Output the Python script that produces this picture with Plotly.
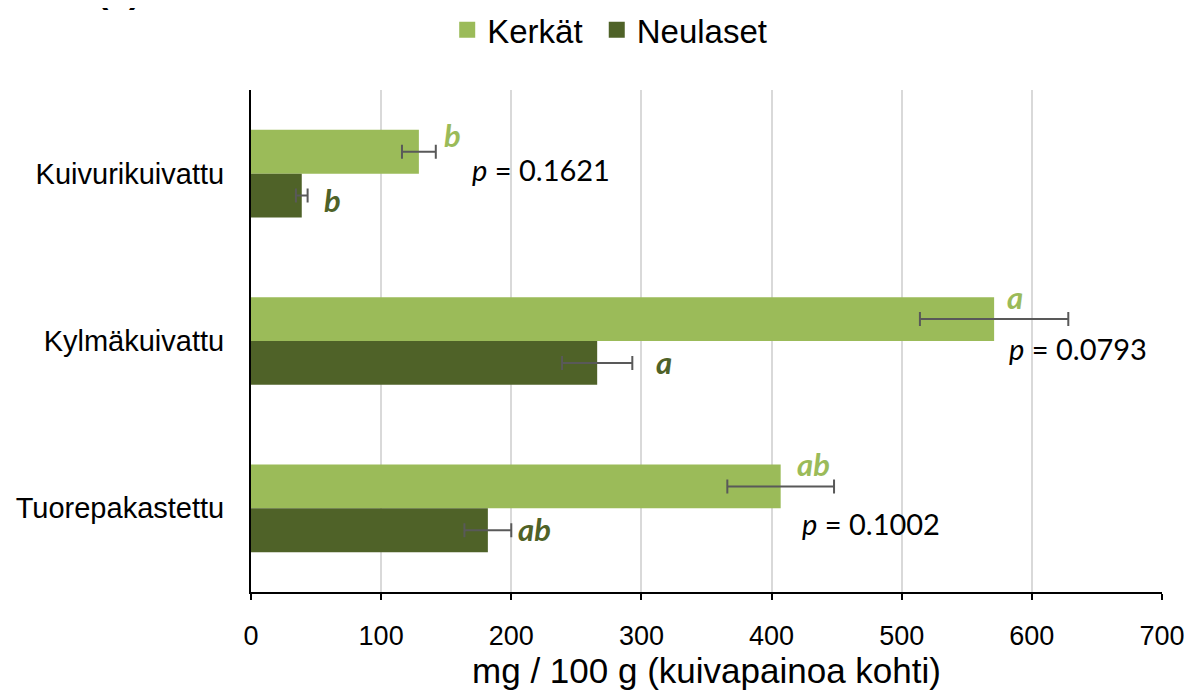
import plotly.graph_objects as go

categories = ["Kuivurikuivattu", "Kylmäkuivattu", "Tuorepakastettu"]
kerkat = [129, 571, 407]
kerkat_err = [13, 57, 41]
neulaset = [39, 266, 182]
neulaset_err = [4.5, 27, 18]

series_names = ["Kerkät", "Neulaset"]
p_labels = ["0.1621", "0.0793", "0.1002"]
kerkat_letters = ["b", "a", "ab"]
neulaset_letters = ["b", "a", "ab"]

# annotation placement (data x, pixel y shift)
p_x = [168, 581, 422]
p_shift = [4, -7, -15]
kl_x = [155, 587, 432]
kl_shift = [39, 44, 44]
nl_x = [63, 317, 218]
nl_shift = [-26, -21, -21]

LIGHT = "#9BBB59"
DARK = "#4F6228"
ERR = "#595959"

# the page body adds an 8 px offset, so the figure is drawn 8 px smaller
W, H = 1184, 685
PLOT_L, PLOT_R, PLOT_T, PLOT_B = 243, 1154, 82, 584

fig = go.Figure()
fig.add_trace(go.Bar(
    y=categories, x=kerkat, orientation="h", name=series_names[0], showlegend=False,
    marker=dict(color=LIGHT, line=dict(width=0)),
    error_x=dict(type="data", array=kerkat_err, color=ERR, thickness=2, width=7),
))
fig.add_trace(go.Bar(
    y=categories, x=neulaset, orientation="h", name=series_names[1], showlegend=False,
    marker=dict(color=DARK, line=dict(width=0)),
    error_x=dict(type="data", array=neulaset_err, color=ERR, thickness=2, width=7),
))
# legend entries with larger square swatches
for name, col in zip(series_names, [LIGHT, DARK]):
    fig.add_trace(go.Scatter(
        x=[None], y=[None], mode="markers", name=name + " ",
        marker=dict(symbol="square", size=17, color=col), showlegend=True,
    ))

annotations = []
for i, cat in enumerate(categories):
    annotations.append(dict(
        x=p_x[i], y=cat, xref="x", yref="y", yshift=p_shift[i],
        text="<i>p</i> = " + p_labels[i], showarrow=False, xanchor="left",
        font=dict(family="Lato, Open Sans, sans-serif", size=29, color="#000000"),
    ))
    annotations.append(dict(
        x=kl_x[i], y=cat, xref="x", yref="y", yshift=kl_shift[i],
        text="<b><i>" + kerkat_letters[i] + "</i></b>", showarrow=False,
        font=dict(family="Lato, Open Sans, sans-serif", size=31, color=LIGHT),
    ))
    annotations.append(dict(
        x=nl_x[i], y=cat, xref="x", yref="y", yshift=nl_shift[i],
        text="<b><i>" + neulaset_letters[i] + "</i></b>", showarrow=False,
        font=dict(family="Lato, Open Sans, sans-serif", size=31, color=DARK),
    ))

annotations.append(dict(
    x=(110 - PLOT_L) / (PLOT_R - PLOT_L), y=1 + (PLOT_T - 4) / (PLOT_B - PLOT_T),
    xref="paper", yref="paper", xanchor="center", yanchor="bottom",
    text="<b>(b)</b>", showarrow=False,
    font=dict(family="Liberation Sans, Arial, sans-serif", size=34, color="#000000"),
))

fig.update_layout(
    width=W, height=H,
    margin=dict(l=PLOT_L, r=W - PLOT_R, t=PLOT_T, b=H - PLOT_B, autoexpand=False),
    paper_bgcolor="white", plot_bgcolor="white",
    barmode="group", bargap=0.476, bargroupgap=0,
    font=dict(family="Liberation Sans, Arial, sans-serif", color="#000000"),
    showlegend=True,
    legend=dict(
        orientation="h", x=0.512, y=0.968, xref="container", yref="container",
        xanchor="center", yanchor="middle",
        font=dict(size=33, color="#000000"), traceorder="normal",
        bgcolor="rgba(0,0,0,0)", itemsizing="trace",
    ),
    annotations=annotations,
    xaxis=dict(
        range=[0, 700], dtick=100, tick0=0,
        showgrid=True, gridcolor="#D9D9D9", gridwidth=2,
        showline=True, linecolor="#000000", linewidth=2,
        ticks="outside", ticklen=6, tickwidth=1.5, tickcolor="#000000",
        tickfont=dict(size=27), zeroline=False, automargin=False,
        ticklabelstandoff=13,
        title=dict(text="mg / 100 g (kuivapainoa kohti)", font=dict(size=35), standoff=6),
    ),
    yaxis=dict(
        autorange="reversed", automargin=False,
        showline=True, linecolor="#000000", linewidth=2,
        ticks="", tickfont=dict(size=29), ticklabelstandoff=19,
        showgrid=False,
    ),
)

fig.write_html("out.html")
